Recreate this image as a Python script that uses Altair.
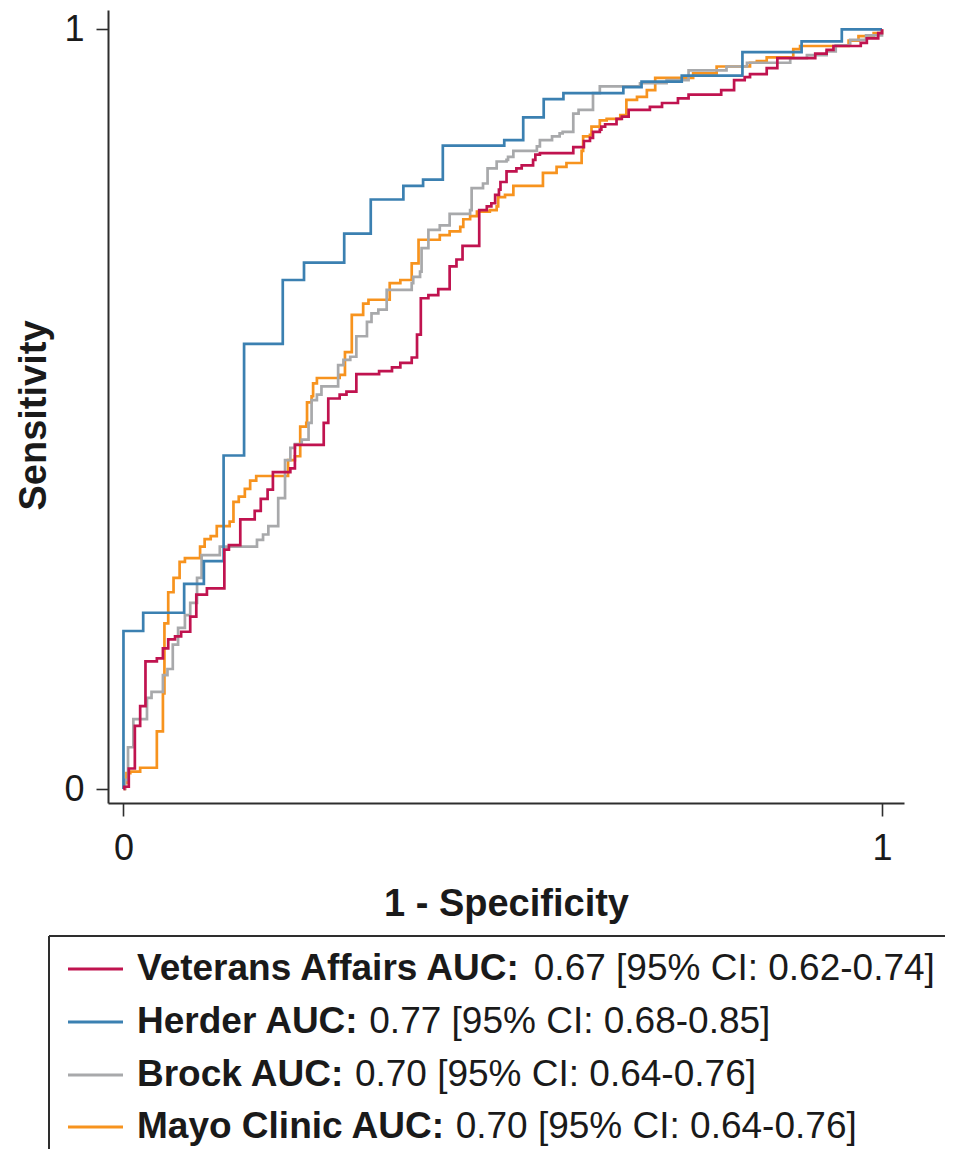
import altair as alt
import pandas as pd

# ---- data (1 - specificity, sensitivity) step corners ----
va_x = [0, 0.001, 0.007, 0.015, 0.022, 0.029, 0.044, 0.052, 0.059, 0.068, 0.076, 0.088, 0.096, 0.110, 0.133,
        0.139, 0.154, 0.173, 0.181, 0.190, 0.197, 0.220, 0.226, 0.264, 0.270, 0.285, 0.294, 0.307, 0.337, 0.354,
        0.365, 0.380, 0.387, 0.392, 0.402, 0.415, 0.430, 0.439, 0.447, 0.469, 0.479, 0.485, 0.490, 0.495, 0.497,
        0.505, 0.518, 0.525, 0.540, 0.543, 0.549, 0.593, 0.607, 0.615, 0.619, 0.628, 0.630, 0.635, 0.650, 0.657,
        0.666, 0.694, 0.710, 0.731, 0.745, 0.788, 0.805, 0.819, 0.826, 0.848, 0.862, 0.912, 0.927, 0.936, 0.972,
        0.980, 0.995, 1.0]
va_y = [0, 0.003, 0.027, 0.083, 0.109, 0.168, 0.172, 0.185, 0.197, 0.201, 0.207, 0.227, 0.256, 0.264, 0.315,
        0.321, 0.355, 0.366, 0.382, 0.394, 0.417, 0.422, 0.453, 0.482, 0.514, 0.519, 0.523, 0.546, 0.550, 0.555,
        0.561, 0.568, 0.598, 0.646, 0.650, 0.658, 0.688, 0.697, 0.715, 0.762, 0.767, 0.771, 0.782, 0.789, 0.799,
        0.813, 0.817, 0.821, 0.828, 0.835, 0.837, 0.845, 0.853, 0.857, 0.865, 0.868, 0.872, 0.875, 0.882, 0.885,
        0.894, 0.898, 0.903, 0.909, 0.914, 0.920, 0.933, 0.937, 0.941, 0.949, 0.962, 0.968, 0.973, 0.978, 0.982,
        0.988, 0.995, 1.0]

herder_x = [0, 0, 0.026, 0.080, 0.106, 0.132, 0.159, 0.210, 0.238, 0.291, 0.326, 0.369, 0.395, 0.421, 0.502,
            0.527, 0.554, 0.580, 0.659, 0.683, 0.736, 0.816, 0.894, 0.947, 1.0]
herder_y = [0, 0.208, 0.232, 0.270, 0.300, 0.439, 0.586, 0.670, 0.693, 0.731, 0.776, 0.794, 0.802, 0.847, 0.854,
            0.884, 0.908, 0.916, 0.924, 0.931, 0.939, 0.970, 0.984, 1.0, 1.0]

brock_x = [0, 0.002, 0.006, 0.013, 0.031, 0.037, 0.052, 0.058, 0.065, 0.072, 0.081, 0.088, 0.097, 0.103, 0.127,
           0.176, 0.184, 0.191, 0.204, 0.213, 0.220, 0.226, 0.235, 0.244, 0.248, 0.255, 0.261, 0.283, 0.290, 0.299,
           0.307, 0.321, 0.327, 0.336, 0.347, 0.380, 0.382, 0.391, 0.393, 0.402, 0.417, 0.430, 0.457, 0.459, 0.474,
           0.480, 0.492, 0.505, 0.507, 0.514, 0.545, 0.549, 0.565, 0.575, 0.579, 0.593, 0.600, 0.619, 0.628, 0.681,
           0.716, 0.745, 0.795, 0.822, 0.879, 0.901, 0.927, 0.939, 0.958, 0.979, 1.0]
brock_y = [0, 0.012, 0.055, 0.092, 0.120, 0.128, 0.150, 0.158, 0.190, 0.212, 0.229, 0.245, 0.278, 0.308, 0.319,
           0.328, 0.335, 0.346, 0.383, 0.433, 0.449, 0.454, 0.460, 0.482, 0.512, 0.519, 0.530, 0.558, 0.565, 0.569,
           0.596, 0.615, 0.626, 0.631, 0.657, 0.666, 0.674, 0.681, 0.712, 0.736, 0.742, 0.757, 0.762, 0.791, 0.797,
           0.817, 0.826, 0.828, 0.832, 0.840, 0.846, 0.854, 0.859, 0.863, 0.865, 0.889, 0.894, 0.916, 0.925, 0.929,
           0.933, 0.946, 0.951, 0.956, 0.962, 0.966, 0.971, 0.979, 0.986, 0.992, 1.0]

mayo_x = [0, 0.002, 0.004, 0.009, 0.022, 0.044, 0.052, 0.054, 0.059, 0.066, 0.074, 0.081, 0.101, 0.107, 0.115,
          0.123, 0.140, 0.145, 0.152, 0.160, 0.167, 0.175, 0.217, 0.226, 0.233, 0.241, 0.242, 0.248, 0.250, 0.255,
          0.285, 0.292, 0.301, 0.316, 0.323, 0.351, 0.365, 0.380, 0.389, 0.417, 0.430, 0.444, 0.448, 0.457, 0.466,
          0.483, 0.492, 0.494, 0.503, 0.514, 0.553, 0.571, 0.584, 0.604, 0.606, 0.615, 0.617, 0.628, 0.637, 0.655,
          0.663, 0.677, 0.690, 0.701, 0.751, 0.782, 0.826, 0.835, 0.848, 0.883, 0.892, 0.956, 0.969, 0.989, 1.0]
mayo_y = [0, 0.008, 0.021, 0.023, 0.028, 0.076, 0.126, 0.218, 0.259, 0.278, 0.299, 0.304, 0.319, 0.329, 0.333,
          0.346, 0.352, 0.378, 0.385, 0.395, 0.406, 0.412, 0.433, 0.438, 0.477, 0.482, 0.509, 0.517, 0.534, 0.541,
          0.545, 0.575, 0.624, 0.639, 0.644, 0.666, 0.670, 0.692, 0.723, 0.729, 0.734, 0.740, 0.750, 0.754, 0.760,
          0.762, 0.767, 0.779, 0.782, 0.794, 0.811, 0.819, 0.824, 0.840, 0.859, 0.861, 0.872, 0.880, 0.882, 0.887,
          0.907, 0.911, 0.920, 0.936, 0.942, 0.951, 0.956, 0.958, 0.963, 0.974, 0.978, 0.985, 0.991, 0.995, 1.0]

models = ["Veterans Affairs", "Herder", "Brock", "Mayo Clinic"]
colors = ["#c0134f", "#3b80b1", "#a8a9ab", "#f7931e"]
legend_bold = ["Veterans Affairs AUC:", "Herder AUC:", "Brock AUC:", "Mayo Clinic AUC:"]
legend_rest = ["0.67 [95% CI: 0.62-0.74]", "0.77 [95% CI: 0.68-0.85]",
               "0.70 [95% CI: 0.64-0.76]", "0.70 [95% CI: 0.64-0.76]"]
tick_values = [0, 1]

series = {"Veterans Affairs": (va_x, va_y), "Herder": (herder_x, herder_y),
          "Brock": (brock_x, brock_y), "Mayo Clinic": (mayo_x, mayo_y)}
rows = []
for m in models:
    xs, ys = series[m]
    for i, (a, b) in enumerate(zip(xs, ys)):
        rows.append({"model": m, "x": a, "y": b, "i": i})
df = pd.DataFrame(rows)

FONT = "Liberation Sans"
INK = "#1a1a1a"
AX = "#2e2e2e"

xenc = alt.X("x:Q", scale=alt.Scale(domain=[-0.0204, 1.029], nice=False, zero=False),
             axis=alt.Axis(values=tick_values, format="d", title="1 - Specificity", grid=False,
                           labelFont=FONT, labelFontSize=36, labelColor=INK, labelPadding=15,
                           titleFont=FONT, titleFontSize=38, titleFontWeight="bold", titleColor=INK,
                           titleY=112, titleBaseline="alphabetic",
                           tickSize=13, tickWidth=1.6, tickColor=AX, domainWidth=2, domainColor=AX))
yenc = alt.Y("y:Q", scale=alt.Scale(domain=[-0.0184, 1.0254], nice=False, zero=False),
             axis=alt.Axis(values=tick_values, format="d", title="Sensitivity", grid=False,
                           labelFont=FONT, labelFontSize=36, labelColor=INK, labelPadding=12,
                           titleFont=FONT, titleFontSize=38, titleFontWeight="bold", titleColor=INK,
                           titleAngle=270, titleX=-63, titleY=405, titleAlign="center",
                           titleBaseline="alphabetic",
                           tickSize=12, tickWidth=1.6, tickColor=AX, domainWidth=2, domainColor=AX))

base = alt.Chart(df)
layers = []
for m, c in reversed(list(zip(models, colors))):
    layers.append(
        base.transform_filter(alt.datum.model == m)
        .mark_line(interpolate="step-after", color=c, strokeWidth=2.7)
        .encode(x=xenc, y=yenc, order=alt.Order("i:Q"))
    )

one = alt.Data(values=[{"k": 0}])
# legend frame: top and left edges (the rest runs off the page)
layers.append(
    alt.Chart(one).mark_rule(color=AX, strokeWidth=2)
    .encode(x=alt.value(-59), x2=alt.value(1000), y=alt.value(926))
)
layers.append(
    alt.Chart(one).mark_rule(color=AX, strokeWidth=2)
    .encode(x=alt.value(-59), y=alt.value(926), y2=alt.value(1400))
)

BOLD_W = {" ": 278, "A": 722, "C": 722, "U": 722, "V": 667, "H": 722, "B": 722, "M": 833, "e": 556,
          "t": 333, "r": 389, "a": 556, "n": 611, "s": 556, "f": 333, "i": 278, "d": 611, "o": 611,
          "c": 556, "k": 556, "y": 556, "l": 278, ":": 333}
FS = 37
row_y = [959, 1012, 1065, 1117]
for k in range(4):
    bw = sum(BOLD_W.get(ch, 556) for ch in legend_bold[k]) / 1000 * FS
    ly = row_y[k]
    layers.append(
        alt.Chart(one).mark_rule(color=colors[k], strokeWidth=2.8)
        .encode(x=alt.value(-40), x2=alt.value(15), y=alt.value(ly))
    )
    layers.append(
        alt.Chart(one).mark_text(text=legend_bold[k], align="left", baseline="alphabetic", font=FONT,
                                 fontSize=FS, fontWeight="bold", color=INK)
        .encode(x=alt.value(29), y=alt.value(ly + 11))
    )
    layers.append(
        alt.Chart(one).mark_text(text=legend_rest[k], align="left", baseline="alphabetic", font=FONT,
                                 fontSize=FS, fontWeight="normal", color=INK)
        .encode(x=alt.value(29 + bw + 0.278 * FS), y=alt.value(ly + 11))
    )

chart = (
    alt.layer(*layers)
    .properties(width=796, height=793,
                padding={"left": 100, "top": 2, "right": 41, "bottom": 346},
                autosize=alt.AutoSizeParams(type="none"))
    .configure_view(stroke=None)
)

chart.save("out.html", embed_options={"renderer": "svg", "actions": False})
